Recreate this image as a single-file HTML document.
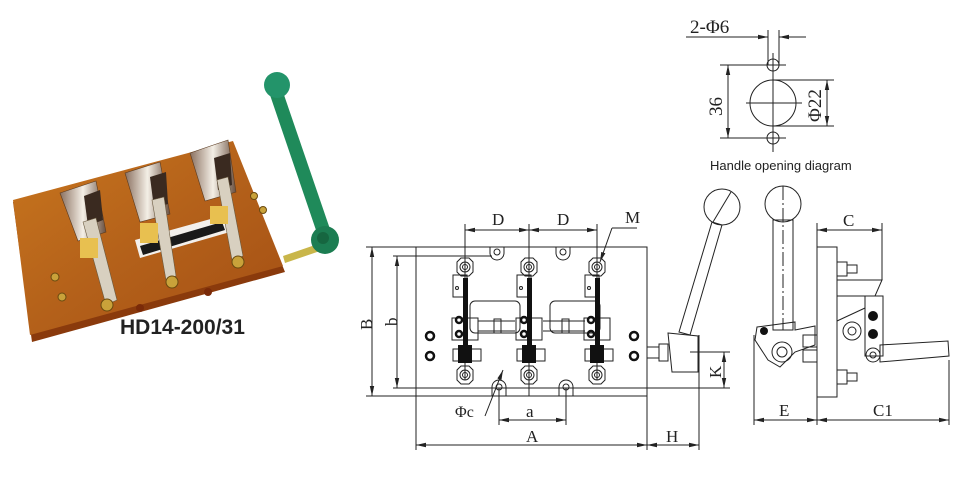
<!DOCTYPE html>
<html><head><meta charset="utf-8"><style>
html,body{margin:0;padding:0;background:#fff;}
svg{display:block}
.s{font-family:"Liberation Serif",serif;fill:#222}
</style></head><body>
<svg width="978" height="492" viewBox="0 0 978 492" xmlns="http://www.w3.org/2000/svg">
<defs>
<marker id="ar" markerWidth="10" markerHeight="6" refX="10" refY="3" orient="auto-start-reverse" markerUnits="userSpaceOnUse"><path d="M0,0.8 L10,3 L0,5.2 Z" fill="#222"/></marker>
<linearGradient id="wood" x1="0" y1="0" x2="1" y2="1"><stop offset="0" stop-color="#c8761e"/><stop offset="0.5" stop-color="#b4611a"/><stop offset="1" stop-color="#a44f14"/></linearGradient>
<linearGradient id="met" x1="0" y1="0" x2="1" y2="0"><stop offset="0" stop-color="#8a7060"/><stop offset="0.5" stop-color="#f4efe6"/><stop offset="1" stop-color="#6a5040"/></linearGradient>
</defs>

<!-- PHOTO -->
<polygon points="13,202 233,143 285,272 32,342" fill="#8a3a0c"/>
<polygon points="13,200 233,141 283,266 30,335" fill="url(#wood)"/>
<!-- shaft -->
<polygon points="283,256 318,244 320,251 285,263" fill="#c9b64a"/>
<polygon points="135,240 225,215 230,232 140,258" fill="#f3f0ec"/>
<polygon points="140,246 222,222 225,230 143,255" fill="#1a1a1a"/>
<g fill="url(#met)" stroke="#5a3a20" stroke-width="0.6">
<polygon points="60,193 96,181 106,232 78,241"/>
<polygon points="125,173 160,162 170,214 140,222"/>
<polygon points="190,153 228,140 236,192 205,201"/>
</g>
<g fill="#3a2a20">
<polygon points="84,196 100,190 103,220 88,226"/>
<polygon points="150,177 166,172 168,204 154,208"/>
<polygon points="214,158 230,153 232,185 218,190"/>
</g>
<g fill="#d8d0c0" stroke="#6a5a40" stroke-width="0.6">
<polygon points="83,222 96,218 117,300 106,305"/>
<polygon points="152,200 164,197 176,276 166,280"/>
<polygon points="217,180 228,177 243,256 232,260"/>
</g>
<g fill="#e8c050">
<rect x="80" y="238" width="18" height="20"/><rect x="140" y="223" width="18" height="20"/><rect x="210" y="206" width="18" height="18"/>
</g>
<g fill="#c9a23a" stroke="#6a4a10" stroke-width="1">
<circle cx="107" cy="305" r="6"/><circle cx="172" cy="282" r="6"/><circle cx="238" cy="262" r="6"/>
<circle cx="55" cy="277" r="4"/><circle cx="62" cy="297" r="4"/><circle cx="254" cy="196" r="3.5"/><circle cx="263" cy="210" r="3.5"/>
</g>
<circle cx="140" cy="308" r="4" fill="#7a2a08"/><circle cx="208" cy="292" r="4" fill="#7a2a08"/>
<!-- green handle -->
<polygon points="270,95 283,92 331,232 318,236" fill="#1f8a5a"/>
<circle cx="325" cy="240" r="14" fill="#1c7d52"/><circle cx="323" cy="238" r="6" fill="#166640"/>
<circle cx="277" cy="85" r="13" fill="#23946a"/>
<text x="120" y="334" font-family="Liberation Sans,sans-serif" font-weight="bold" font-size="21" fill="#222">HD14-200/31</text>

<!-- HANDLE OPENING DIAGRAM -->
<g stroke="#222" stroke-width="1" fill="none">
<line x1="686" y1="37" x2="768" y2="37" marker-end="url(#ar)"/>
<line x1="806" y1="37" x2="779" y2="37" marker-end="url(#ar)"/>
<line x1="768" y1="30" x2="768" y2="65"/><line x1="779" y1="30" x2="779" y2="65"/>
<circle cx="773" cy="65" r="6"/><circle cx="773" cy="103" r="23"/><circle cx="773" cy="138" r="6"/>
<line x1="773" y1="53" x2="773" y2="152"/><line x1="746" y1="103" x2="802" y2="103"/>
<line x1="720" y1="65" x2="786" y2="65"/><line x1="720" y1="138" x2="786" y2="138"/>
<line x1="728" y1="65" x2="728" y2="138" marker-start="url(#ar)" marker-end="url(#ar)"/>
<line x1="773" y1="80" x2="834" y2="80"/><line x1="773" y1="126" x2="834" y2="126"/>
<line x1="827" y1="80" x2="827" y2="126" marker-start="url(#ar)" marker-end="url(#ar)"/>
</g>
<text class="s" x="690" y="33" font-size="19">2-Φ6</text>
<text class="s" font-size="19" transform="translate(722,116) rotate(-90)">36</text>
<text class="s" font-size="19" transform="translate(821,122) rotate(-90)">Φ22</text>
<text x="710" y="170" font-family="Liberation Sans,sans-serif" font-size="13" fill="#222">Handle opening diagram</text>

<!-- FRONT VIEW -->
<g stroke="#222" stroke-width="1" fill="none">
<rect x="416" y="247" width="231" height="149"/>
<line x1="366" y1="247" x2="416" y2="247"/><line x1="366" y1="396" x2="416" y2="396"/>
<line x1="372" y1="247" x2="372" y2="396" marker-start="url(#ar)" marker-end="url(#ar)"/>
<line x1="393" y1="256" x2="492" y2="256"/><line x1="393" y1="388" x2="730" y2="388"/>
<line x1="397" y1="256" x2="397" y2="388" marker-start="url(#ar)" marker-end="url(#ar)"/>
<line x1="465" y1="224" x2="465" y2="380"/><line x1="529" y1="224" x2="529" y2="396"/><line x1="597" y1="224" x2="597" y2="380"/>
<line x1="465" y1="230" x2="529" y2="230" marker-start="url(#ar)" marker-end="url(#ar)"/>
<line x1="529" y1="230" x2="597" y2="230" marker-start="url(#ar)" marker-end="url(#ar)"/>
<line x1="637" y1="228" x2="612" y2="228"/><line x1="612" y1="228" x2="600" y2="262" marker-end="url(#ar)"/>
<!-- ears -->
<path d="M490,247 v6 a7,7 0 0 0 14,0 v-6"/><circle cx="497" cy="252" r="3"/>
<path d="M556,247 v6 a7,7 0 0 0 14,0 v-6"/><circle cx="563" cy="252" r="3"/>
<path d="M492,396 v-9 a7,7 0 0 1 14,0 v9"/><circle cx="499" cy="387" r="3"/>
<path d="M559,396 v-9 a7,7 0 0 1 14,0 v9"/><circle cx="566" cy="387" r="3"/>
<!-- terminals -->
<g id="ph">
<polygon points="457,262 461,258 469,258 473,262 473,272 469,276 461,276 457,272"/><circle cx="465" cy="267" r="5"/><circle cx="465" cy="267" r="2.5"/>
<rect x="453" y="275" width="14" height="22"/><circle cx="457" cy="288" r="1.5"/>
<rect x="452" y="318" width="26" height="22"/>
<polygon points="457,370 461,366 469,366 473,370 473,380 469,384 461,384 457,380"/><circle cx="465" cy="375" r="5"/><circle cx="465" cy="375" r="2.5"/>
<rect x="453" y="349" width="28" height="12"/>
</g>
<use href="#ph" x="64"/><use href="#ph" x="132"/>
<rect x="470" y="301" width="50" height="32" rx="5"/><rect x="550" y="301" width="50" height="32" rx="5"/>
<line x1="478" y1="321" x2="515" y2="321"/><line x1="478" y1="331" x2="515" y2="331"/>
<line x1="543" y1="321" x2="585" y2="321"/><line x1="543" y1="331" x2="585" y2="331"/>
<rect x="494" y="319" width="7" height="14"/><rect x="562" y="319" width="7" height="14"/>
<line x1="499" y1="388" x2="499" y2="425"/><line x1="566" y1="388" x2="566" y2="425"/>
<line x1="499" y1="420" x2="566" y2="420" marker-start="url(#ar)" marker-end="url(#ar)"/>
<line x1="416" y1="396" x2="416" y2="450"/><line x1="647" y1="396" x2="647" y2="450"/><line x1="699" y1="335" x2="699" y2="450"/>
<line x1="416" y1="445" x2="647" y2="445" marker-start="url(#ar)" marker-end="url(#ar)"/>
<line x1="647" y1="445" x2="699" y2="445" marker-start="url(#ar)" marker-end="url(#ar)"/>
<line x1="690" y1="352" x2="730" y2="352"/>
<line x1="724" y1="352" x2="724" y2="388" marker-start="url(#ar)" marker-end="url(#ar)"/>
<line x1="485" y1="416" x2="503" y2="370" marker-end="url(#ar)"/>
<!-- handle -->
<circle cx="722" cy="207" r="18"/><line x1="731" y1="192" x2="713" y2="222"/>
<polygon points="712,222 722,225 690,335 679,332"/>
<polygon points="668,333 698,336 698,372 672,372"/>
<rect x="647" y="347" width="12" height="11"/><rect x="659" y="344" width="9" height="17"/>
</g>
<g fill="#111">
<rect x="463" y="278" width="5" height="80"/><rect x="527" y="278" width="5" height="80"/><rect x="595" y="278" width="5" height="80"/>
<rect x="458" y="345" width="14" height="18"/><rect x="522" y="345" width="14" height="18"/><rect x="590" y="345" width="14" height="18"/>
</g>
<g fill="none" stroke="#111" stroke-width="2.5">
<circle cx="459" cy="320" r="3"/><circle cx="459" cy="334" r="3"/><circle cx="524" cy="320" r="3"/><circle cx="524" cy="334" r="3"/><circle cx="591" cy="320" r="3"/><circle cx="591" cy="334" r="3"/>
<circle cx="430" cy="336" r="4"/><circle cx="430" cy="356" r="4"/><circle cx="634" cy="336" r="4"/><circle cx="634" cy="356" r="4"/>
</g>
<text class="s" x="492" y="225" font-size="17">D</text>
<text class="s" x="557" y="225" font-size="17">D</text>
<text class="s" x="625" y="223" font-size="17">M</text>
<text class="s" font-size="17" transform="translate(372,330) rotate(-90)">B</text>
<text class="s" font-size="17" transform="translate(397,326) rotate(-90)">b</text>
<text class="s" x="526" y="417" font-size="17">a</text>
<text class="s" x="455" y="417" font-size="16">Φc</text>
<text class="s" x="526" y="442" font-size="17">A</text>
<text class="s" x="666" y="442" font-size="17">H</text>
<text class="s" font-size="17" transform="translate(721,378) rotate(-90)">K</text>

<!-- SIDE VIEW -->
<g stroke="#222" stroke-width="1" fill="none">
<circle cx="783" cy="204" r="18"/><line x1="783" y1="186" x2="783" y2="330" stroke-dasharray="14,3,2,3"/>
<rect x="773" y="220" width="20" height="110"/>
<rect x="817" y="247" width="20" height="150"/>
<path d="M757,327 L795,322 L795,330 L815,326 L815,345 L795,352 L780,367 L768,360 L755,340 Z"/>
<circle cx="782" cy="352" r="10"/><circle cx="782" cy="352" r="5"/>
<rect x="803" y="335" width="14" height="12"/><rect x="803" y="350" width="14" height="12"/>
<rect x="837" y="262" width="10" height="14"/><rect x="847" y="265" width="10" height="8"/>
<rect x="837" y="370" width="10" height="14"/><rect x="847" y="373" width="10" height="8"/>
<polygon points="837,280 882,280 875,296 837,296"/>
<line x1="837" y1="296" x2="837" y2="300"/>
<rect x="865" y="296" width="18" height="60"/>
<circle cx="852" cy="331" r="9"/><circle cx="852" cy="331" r="4"/>
<path d="M837,321 L865,308"/>
<circle cx="873" cy="355" r="7"/><circle cx="873" cy="355" r="3"/>
<polygon points="880,345 948,341 949,356 880,362"/>
<line x1="817" y1="223" x2="817" y2="247"/><line x1="882" y1="223" x2="882" y2="280"/>
<line x1="817" y1="230" x2="882" y2="230" marker-start="url(#ar)" marker-end="url(#ar)"/>
<line x1="754" y1="335" x2="754" y2="425"/><line x1="817" y1="397" x2="817" y2="425"/><line x1="949" y1="360" x2="949" y2="425"/>
<line x1="754" y1="420" x2="817" y2="420" marker-start="url(#ar)" marker-end="url(#ar)"/>
<line x1="817" y1="420" x2="949" y2="420" marker-start="url(#ar)" marker-end="url(#ar)"/>
</g>
<g fill="#111"><circle cx="873" cy="316" r="5"/><circle cx="873" cy="334" r="5"/><circle cx="764" cy="331" r="4"/></g>
<text class="s" x="843" y="226" font-size="17">C</text>
<text class="s" x="779" y="416" font-size="17">E</text>
<text class="s" x="873" y="416" font-size="17">C1</text>
</svg>
</body></html>
